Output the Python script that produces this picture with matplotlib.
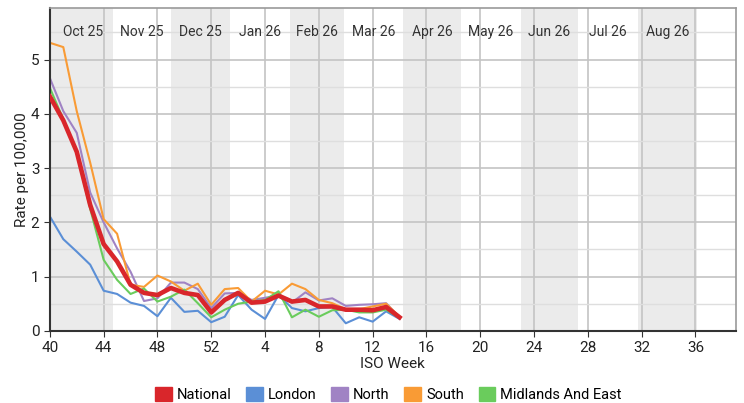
import datetime as dt
import matplotlib.pyplot as plt
from matplotlib.patches import Patch
import numpy as np

plt.rcParams['font.family'] = ['Roboto', 'DejaVu Sans']

# ISO weeks shown (week 40 of 2025 to week 14 of 2026)
weeks = list(range(40, 53)) + list(range(1, 15))

national = [4.32, 3.88, 3.30, 2.32, 1.60, 1.28, 0.85, 0.70, 0.66, 0.79, 0.70, 0.66, 0.34,
            0.57, 0.70, 0.52, 0.54, 0.65, 0.54, 0.57, 0.45, 0.45, 0.39, 0.39, 0.38, 0.44, 0.25]
london = [2.11, 1.69, 1.46, 1.22, 0.74, 0.68, 0.52, 0.46, 0.27, 0.61, 0.35, 0.37, 0.16,
          0.26, 0.66, 0.39, 0.22, 0.66, 0.42, 0.36, 0.42, 0.44, 0.14, 0.25, 0.17, 0.36, 0.22]
north = [4.66, 4.05, 3.65, 2.55, 2.00, 1.52, 1.09, 0.55, 0.60, 0.89, 0.89, 0.77, 0.42,
         0.69, 0.70, 0.57, 0.61, 0.65, 0.52, 0.71, 0.56, 0.60, 0.46, 0.48, 0.49, 0.51, 0.25]
south = [5.31, 5.23, 4.05, 3.10, 2.06, 1.79, 0.85, 0.81, 1.02, 0.91, 0.74, 0.87, 0.48,
         0.77, 0.79, 0.54, 0.74, 0.67, 0.87, 0.77, 0.57, 0.51, 0.40, 0.40, 0.45, 0.50, 0.26]
midlands = [4.48, 3.90, 3.28, 2.25, 1.31, 0.94, 0.68, 0.78, 0.54, 0.63, 0.76, 0.51, 0.25,
            0.39, 0.50, 0.54, 0.57, 0.73, 0.25, 0.39, 0.26, 0.38, 0.39, 0.34, 0.34, 0.39, 0.24]

tick_labels = ["40", "44", "48", "52", "4", "8", "12", "16", "20", "24", "28", "32", "36"]
month_names = ["Oct 25", "Nov 25", "Dec 25", "Jan 26", "Feb 26", "Mar 26",
               "Apr 26", "May 26", "Jun 26", "Jul 26", "Aug 26"]
month_starts = [dt.date(2025, m, 1) for m in range(10, 13)] + \
               [dt.date(2026, m, 1) for m in range(1, 10)]

start = dt.date(2025, 9, 29)  # monday of ISO week 40
def pos(d):
    return (d - start).days / 7

x = np.arange(len(weeks))

fig, ax = plt.subplots(figsize=(7.44, 4.03), dpi=100)
fig.subplots_adjust(left=0.067, right=0.989, top=0.980, bottom=0.179)

# month bands
for k, name in enumerate(month_names):
    a, b = pos(month_starts[k]), pos(month_starts[k + 1])
    mid = (a + b) / 2
    if k == 0:
        a = 0
    if k % 2 == 0:
        ax.axvspan(a, b, color='#ebebeb', lw=0, zorder=0)
    ax.text(mid, 5.5, name, ha='center', va='center',
            fontsize=10, color='#333333', zorder=1)

ax.set_yticks(np.arange(0, 6, 1))
ax.set_yticks(np.arange(0.5, 6, 1), minor=True)
ax.set_xticks(np.arange(0, 49, 4))
ax.set_xticklabels(tick_labels)
ax.grid(True, which='major', color='#c4c4c4', lw=1.2, zorder=0.5)
ax.grid(True, which='minor', axis='y', color='#dedede', lw=1.0, zorder=0.5)
ax.set_axisbelow(True)

ax.plot(x, london, color='#5b8fd6', lw=1.5, zorder=2)
ax.plot(x, north, color='#a083c4', lw=1.5, zorder=2)
ax.plot(x, south, color='#f99b35', lw=1.5, zorder=2)
ax.plot(x, midlands, color='#6acc5c', lw=1.5, zorder=2)
ax.plot(x, national, color='#d9262b', lw=3.3, zorder=3)

ax.set_xlim(0, 51)
ax.set_ylim(0, 5.95)
ax.tick_params(axis='both', which='major', labelsize=11, length=4, color='#333333', labelcolor='#222222')
ax.tick_params(axis='y', which='minor', length=0)
for s in ['left', 'bottom']:
    ax.spines[s].set_color('#333333')
    ax.spines[s].set_linewidth(1.5)
for s in ['top', 'right']:
    ax.spines[s].set_color('#9a9a9a')
    ax.spines[s].set_linewidth(1.2)

ax.set_xlabel('ISO Week', fontsize=11, labelpad=1, color='#222222')
ax.set_ylabel('Rate per 100,000', fontsize=11, labelpad=1, color='#222222')

handles = [Patch(color=c, label=l) for c, l in [
    ('#d9262b', 'National'), ('#5b8fd6', 'London'), ('#a083c4', 'North'),
    ('#f99b35', 'South'), ('#6acc5c', 'Midlands And East')]]
fig.legend(handles=handles, loc='lower center', bbox_to_anchor=(0.522, -0.03), ncol=5,
           frameon=False, fontsize=10.5, handlelength=1.15, handleheight=1.15,
           handletextpad=0.35, columnspacing=1.0)

plt.savefig('out.png', dpi=100)
